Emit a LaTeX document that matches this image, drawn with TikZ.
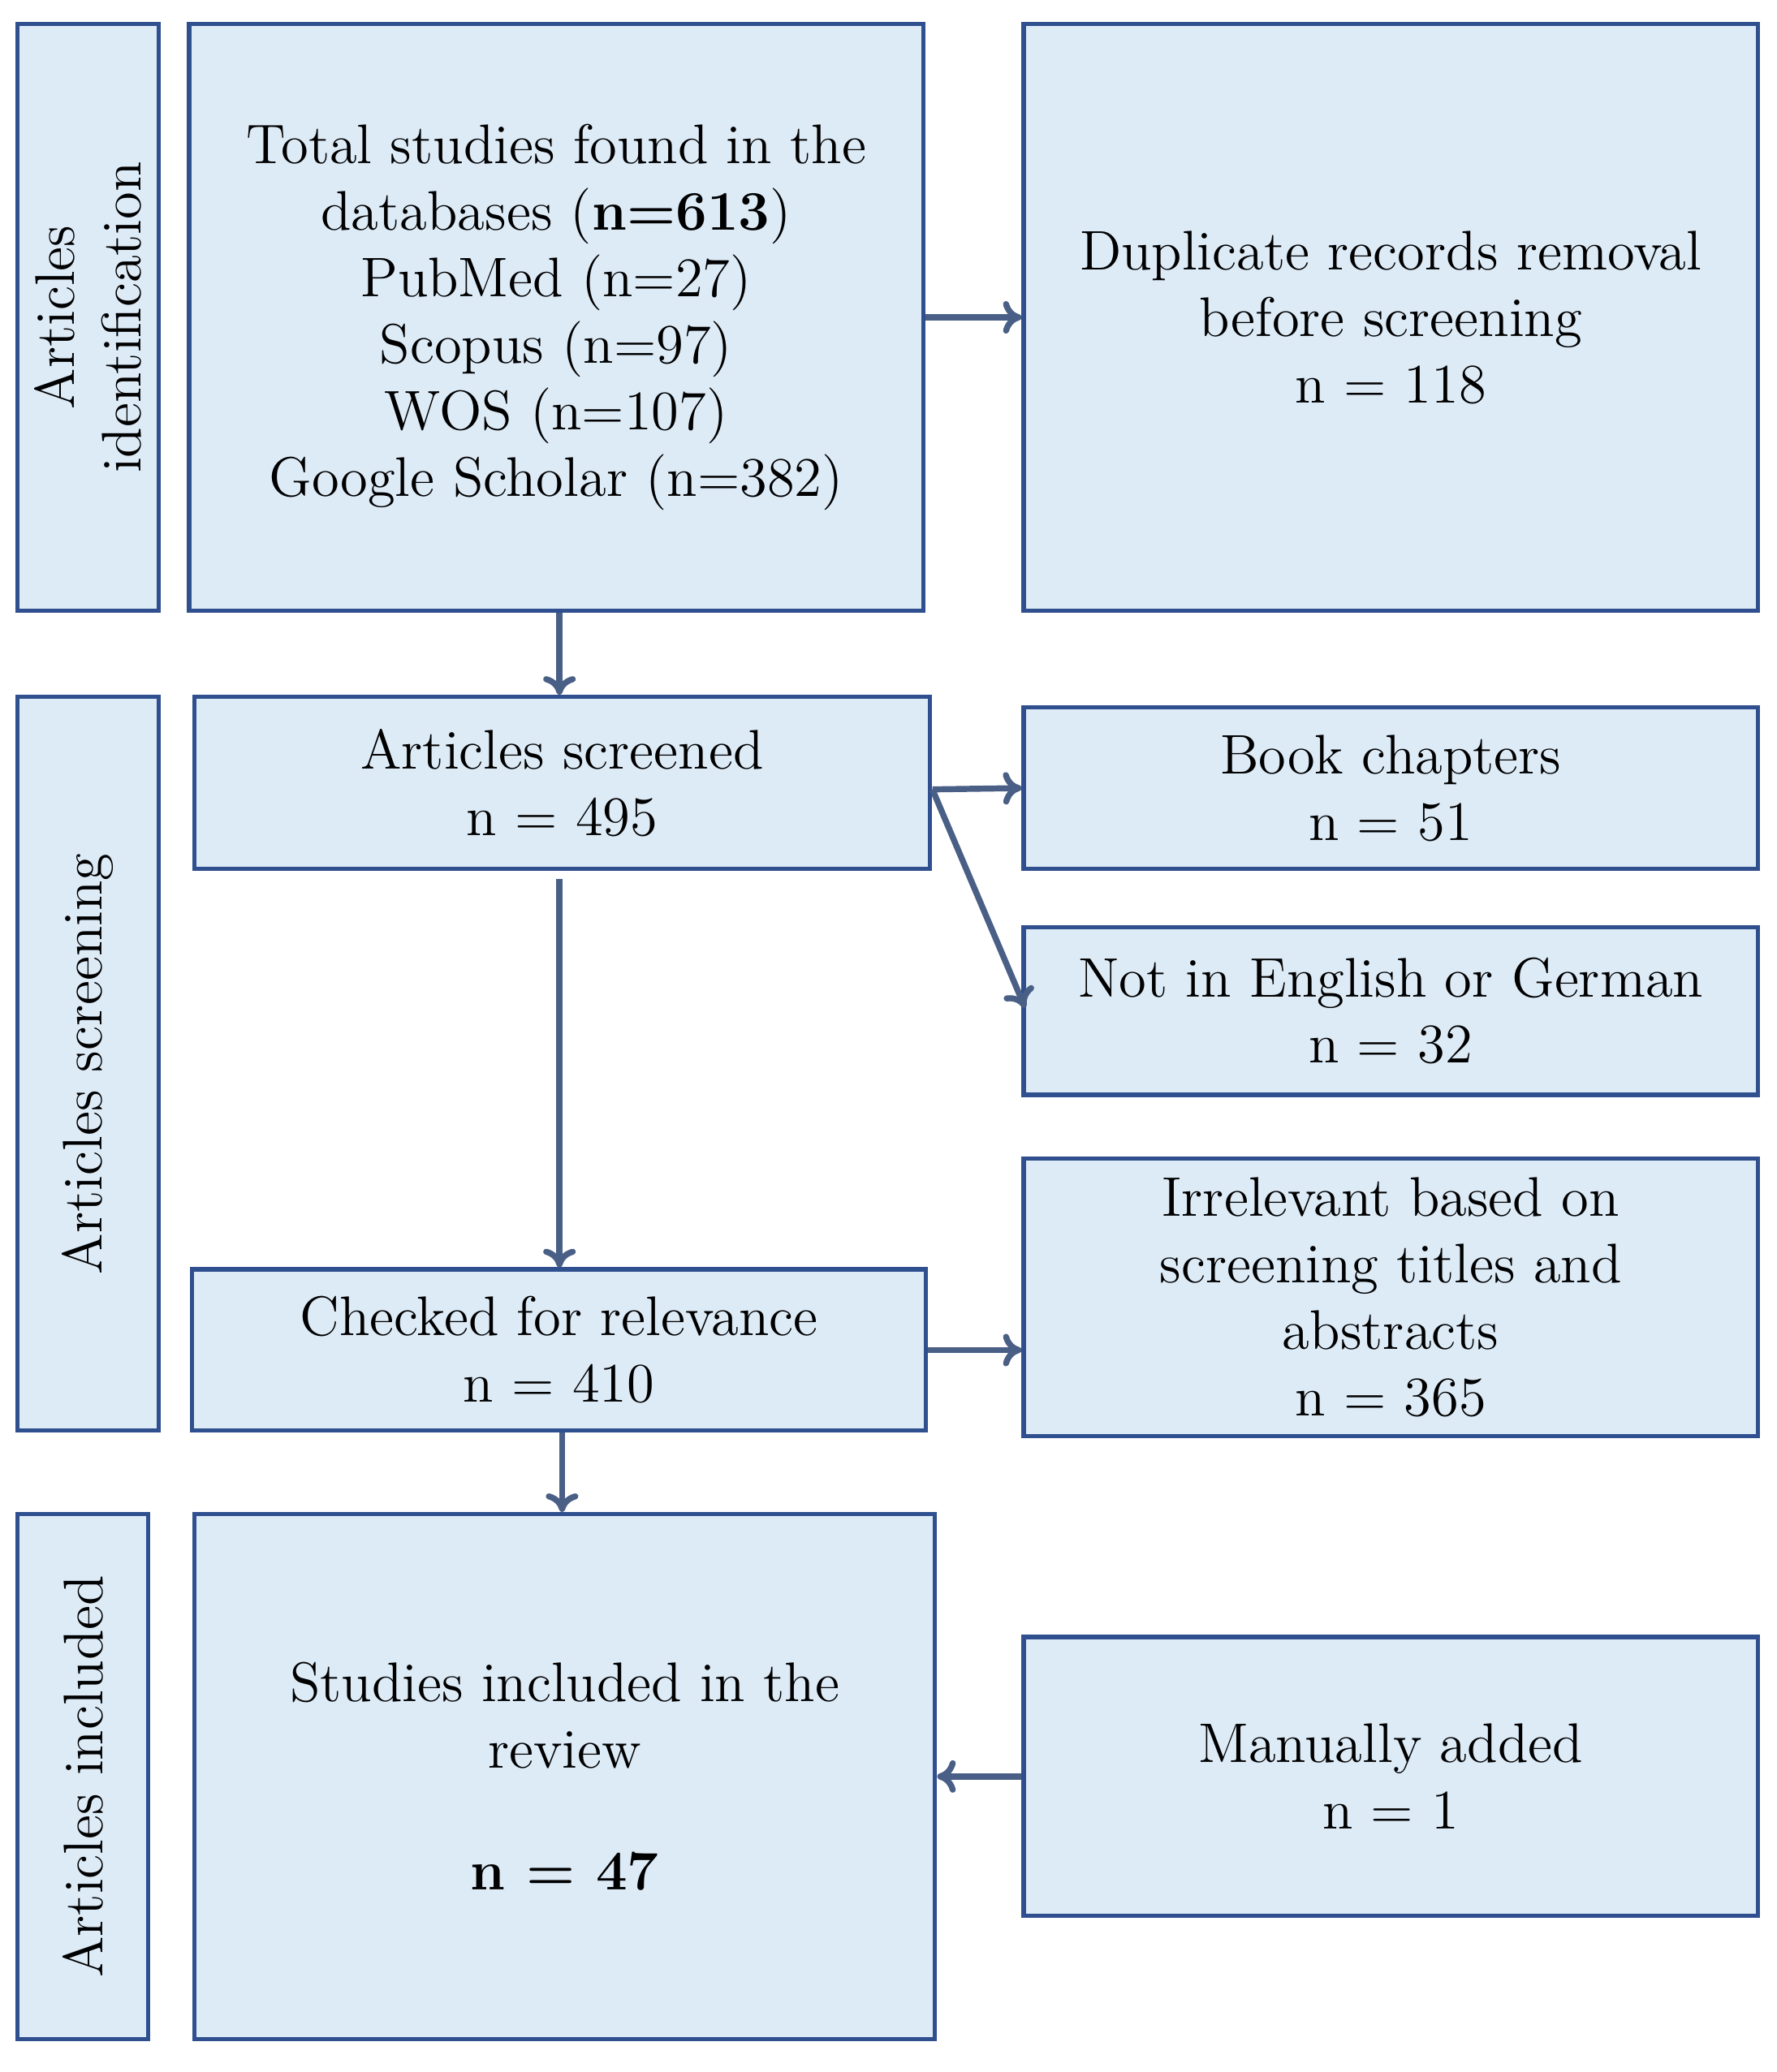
\documentclass[tikz,border=0pt]{standalone}
\usetikzlibrary{arrows.meta}
\definecolor{boxfill}{HTML}{DDEBF7}
\definecolor{boxline}{HTML}{2F4F8F}
\definecolor{arr}{HTML}{4A5F85}
\begin{document}
\begin{tikzpicture}[x=0.01cm,y=-0.01cm,
  box/.style={draw=boxline,fill=boxfill,line width=0.9pt,align=center,inner sep=0pt,
    font=\fontsize{12}{14.3}\selectfont},
  side/.style={box,rotate=90},
  ar/.style={draw=arr,line width=1.3pt,-{To[length=4pt,width=7pt]}}]
\useasboundingbox (0,0) rectangle (1343,1567);
% identification
\node[side,minimum width=444*0.01cm,minimum height=107*0.01cm] (s1) at (66.5,240) {Articles\\identification};
\node[box,minimum width=555*0.01cm,minimum height=444*0.01cm] (tot) at (420.5,240) {Total studies found in the\\databases (\textbf{n=613})\\PubMed (n=27)\\Scopus (n=97)\\WOS (n=107)\\Google Scholar (n=382)};
\node[box,minimum width=555*0.01cm,minimum height=444*0.01cm] (dup) at (1051.5,240) {Duplicate records removal\\before screening\\n = 118};
% screening
\node[side,minimum width=555*0.01cm,minimum height=107*0.01cm] (s2) at (66.5,804.5) {Articles screening};
\node[box,minimum width=556*0.01cm,minimum height=130*0.01cm] (scr) at (425,592) {Articles screened\\n = 495};
\node[box,minimum width=555*0.01cm,minimum height=122*0.01cm] (book) at (1051.5,596) {Book chapters\\n = 51};
\node[box,minimum width=555*0.01cm,minimum height=127*0.01cm] (eng) at (1051.5,764.5) {Not in English or German\\n = 32};
\node[box,minimum width=555*0.01cm,minimum height=122*0.01cm] (chk) at (422.5,1021) {Checked for relevance\\n = 410};
\node[box,minimum width=555*0.01cm,minimum height=210*0.01cm] (irr) at (1051.5,981) {Irrelevant based on\\screening titles and\\abstracts\\n = 365};
% included
\node[side,minimum width=397*0.01cm,minimum height=99*0.01cm] (s3) at (62.5,1343.5) {Articles included};
\node[box,minimum width=560*0.01cm,minimum height=397*0.01cm] (inc) at (427,1343.5) {Studies included in the\\review\\[1em]\textbf{n = 47}};
\node[box,minimum width=555*0.01cm,minimum height=211*0.01cm] (man) at (1051.5,1343.5) {Manually added\\n = 1};
% arrows
\draw[ar] (tot.south -| 423,0) -- (scr.north -| 423,0);
\draw[ar] (tot.east) -- (dup.west);
\draw[ar] (705,597) -- (book.west);
\draw[ar] (705,597) -- (775,762);
\draw[ar] (423,665) -- (chk.north -| 423,0);
\draw[ar] (chk.east) -- (chk.east -| irr.west);
\draw[ar] (chk.south -| 425,0) -- (inc.north -| 425,0);
\draw[ar] (man.west) -- (inc.east);
\end{tikzpicture}
\end{document}
